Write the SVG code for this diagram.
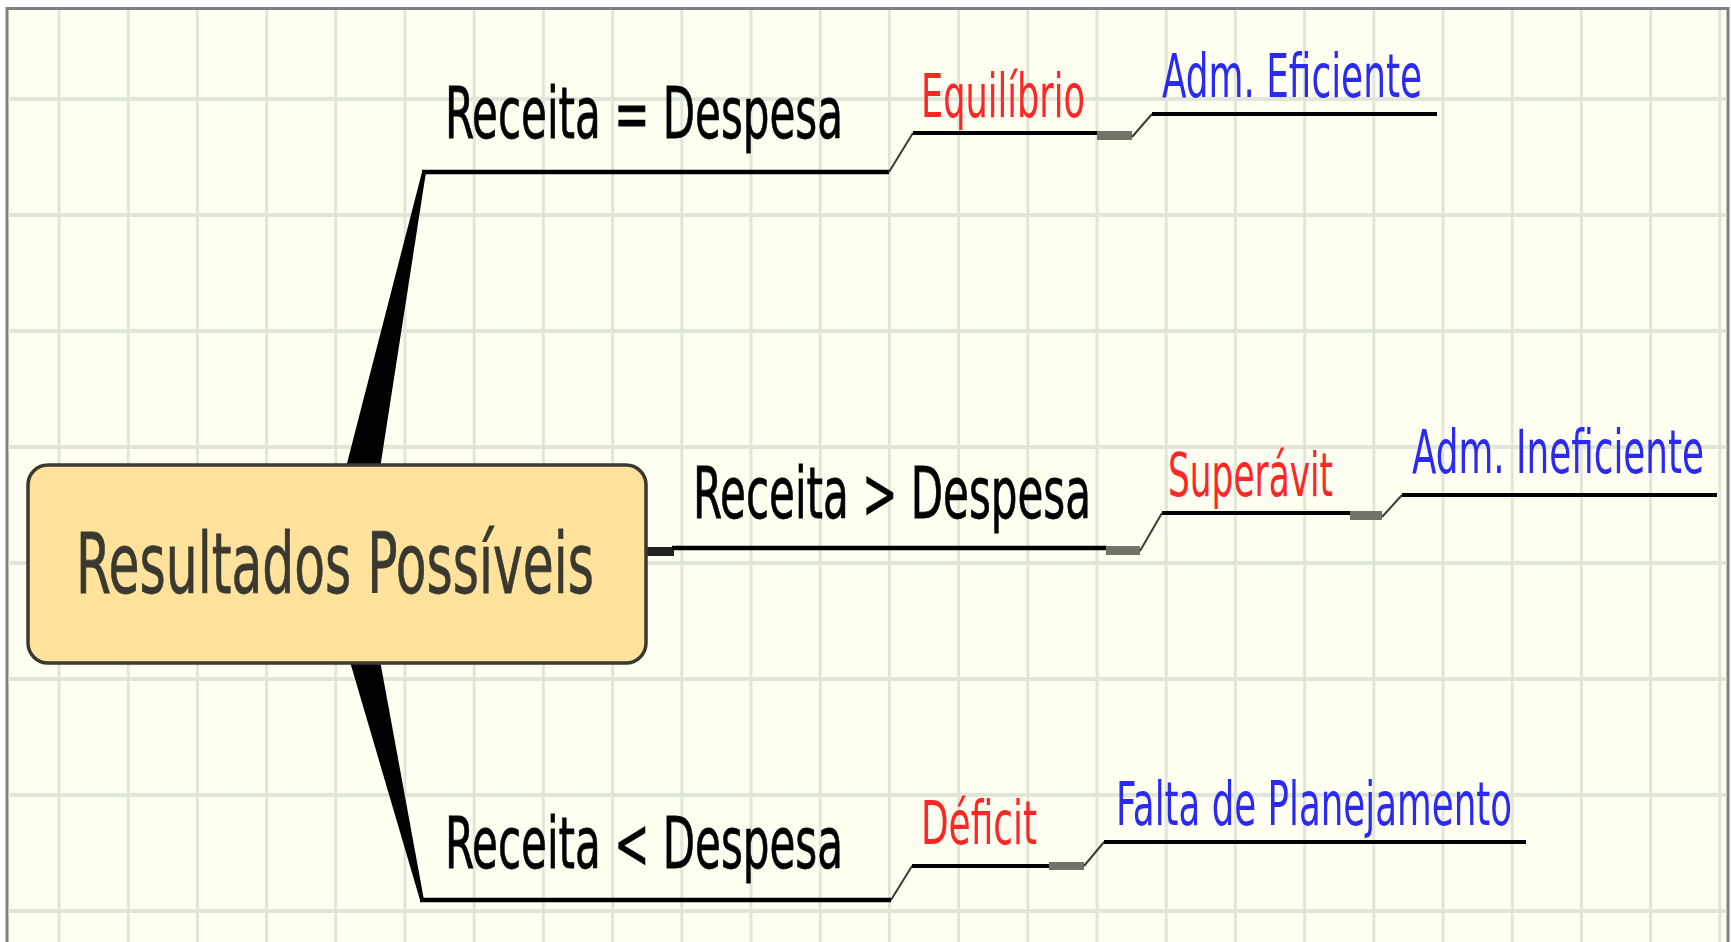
<svg xmlns="http://www.w3.org/2000/svg" width="1731" height="942" viewBox="0 0 1731 942">
<style>
.grid{stroke:#E0E7DA;fill:none}
.conn{stroke:#000;fill:none;stroke-width:4.5}
.sub{stroke:#000;fill:none;stroke-width:4}
.diag{stroke:#3a3a3a;stroke-width:2;fill:none}
.knob{fill:#73736b}
.wedge{fill:#000}
.lbl{font-family:"DejaVu Sans","Liberation Sans",sans-serif;font-stretch:condensed}
.main{font-size:48px;fill:#000;stroke:#000;stroke-width:0.5}
.red{font-size:40px;fill:#FF2626}
.blue{font-size:40px;fill:#2A2AF2}
</style>
<rect x="0" y="0" width="1731" height="942" fill="#ffffff"/>
<rect x="7" y="8.5" width="1721" height="960" fill="#FFFFF2" stroke="#808080" stroke-width="3"/>
<g id="grid">
<path class="grid" stroke-width="3" d="M59,10V942M128.2,10V942M197.4,10V942M266.6,10V942M335.8,10V942M405,10V942M474.2,10V942M543.4,10V942M612.6,10V942M681.8,10V942M751,10V942M820.2,10V942M889.4,10V942M958.6,10V942M1027.8,10V942M1097,10V942M1166.2,10V942M1235.4,10V942M1304.6,10V942M1373.8,10V942M1443,10V942M1512.2,10V942M1581.4,10V942M1650.6,10V942M1719.8,10V942"/>
<path class="grid" stroke-width="4" d="M8.5,99H1726.5M8.5,215H1726.5M8.5,331H1726.5M8.5,447H1726.5M8.5,563H1726.5M8.5,679H1726.5M8.5,795H1726.5M8.5,911H1726.5"/>
</g>
<g id="connectors">
<polygon class="wedge" points="344,475 379,475 426,172 422,172"/>
<path class="conn" d="M422,172H889"/>
<path class="diag" d="M889,172L913,133"/>
<path class="sub" d="M913,133H1099"/>
<rect class="knob" x="1097" y="131" width="35" height="9"/>
<path class="diag" d="M1132,137L1152,114"/>
<path class="sub" d="M1152,114H1437"/>
<rect x="646" y="547" width="28" height="9" fill="#222"/>
<path class="conn" d="M672,548H1106"/>
<rect class="knob" x="1106" y="546" width="34" height="9"/>
<path class="diag" d="M1140,551L1162,513"/>
<path class="sub" d="M1162,513H1350"/>
<rect class="knob" x="1350" y="511" width="32" height="9"/>
<path class="diag" d="M1382,517L1402,495"/>
<path class="sub" d="M1402,495H1717"/>
<polygon class="wedge" points="348,655 379,655 424,900 420,900"/>
<path class="conn" d="M420,900H891"/>
<path class="diag" d="M891,900L912,866"/>
<path class="sub" d="M912,866H1051"/>
<rect class="knob" x="1049" y="862" width="35" height="8"/>
<path class="diag" d="M1084,866L1104,842"/>
<path class="sub" d="M1104,842H1526"/>
</g>
<g id="node-root">
<rect x="28" y="465" width="618" height="198" rx="20" ry="20" fill="#FFE29C" stroke="#3A382F" stroke-width="3.5"/>
<text class="lbl" transform="translate(76,593) scale(1,1.5)" font-size="56" fill="#3A392F" stroke="#3A392F" stroke-width="0.5" textLength="518" lengthAdjust="spacingAndGlyphs">Resultados Possíveis</text>
</g>
<g id="node-receita-igual">
<text class="lbl main" transform="translate(445,138) scale(1,1.5)" textLength="398" lengthAdjust="spacingAndGlyphs">Receita = Despesa</text>
</g>
<g id="node-equilibrio">
<text class="lbl red" transform="translate(921,117) scale(1,1.5)" textLength="164" lengthAdjust="spacingAndGlyphs">Equilíbrio</text>
</g>
<g id="node-adm-eficiente">
<text class="lbl blue" transform="translate(1162,97) scale(1,1.5)" textLength="260" lengthAdjust="spacingAndGlyphs">Adm. Eficiente</text>
</g>
<g id="node-receita-maior">
<text class="lbl main" transform="translate(693,518) scale(1,1.5)" textLength="398" lengthAdjust="spacingAndGlyphs">Receita &gt; Despesa</text>
</g>
<g id="node-superavit">
<text class="lbl red" transform="translate(1168,496) scale(1,1.5)" textLength="165" lengthAdjust="spacingAndGlyphs">Superávit</text>
</g>
<g id="node-adm-ineficiente">
<text class="lbl blue" transform="translate(1412,473) scale(1,1.5)" textLength="292" lengthAdjust="spacingAndGlyphs">Adm. Ineficiente</text>
</g>
<g id="node-receita-menor">
<text class="lbl main" transform="translate(445,868) scale(1,1.5)" textLength="398" lengthAdjust="spacingAndGlyphs">Receita &lt; Despesa</text>
</g>
<g id="node-deficit">
<text class="lbl red" transform="translate(921,844) scale(1,1.5)" textLength="116" lengthAdjust="spacingAndGlyphs">Déficit</text>
</g>
<g id="node-falta-planejamento">
<text class="lbl blue" transform="translate(1116,825) scale(1,1.5)" textLength="396" lengthAdjust="spacingAndGlyphs">Falta de Planejamento</text>
</g>
</svg>
